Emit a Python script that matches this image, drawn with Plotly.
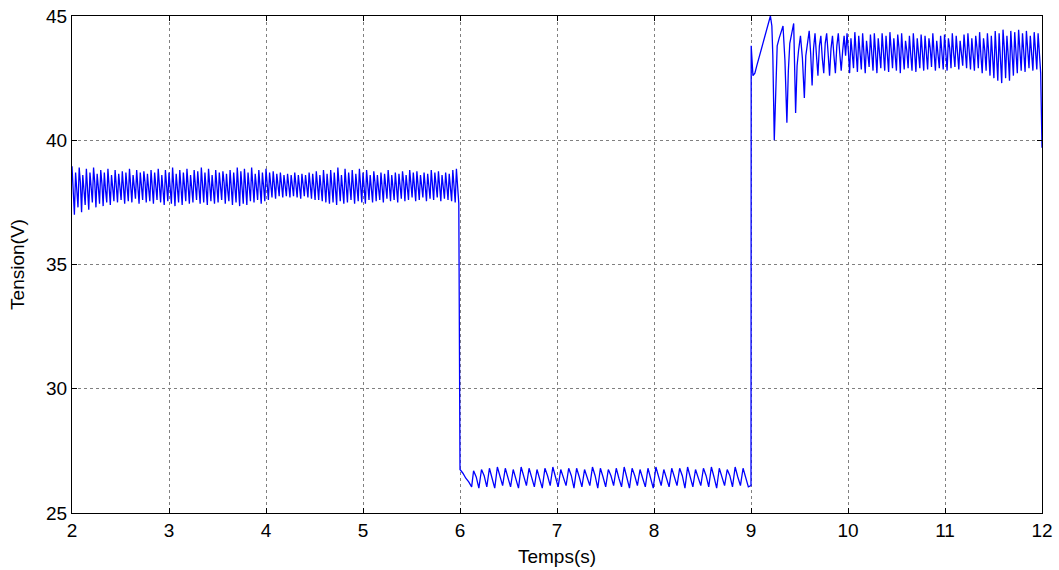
import numpy as np
import plotly.graph_objects as go

# ---------------- data ----------------
# Segment 1 (2 s -> 6 s): per-cycle high / mid / low levels (V)
highs1 = [38.95, 38.7, 38.9, 38.6, 38.85, 38.7, 38.9, 38.65, 38.8, 38.7, 38.85, 38.6,
          38.8, 38.65, 38.75, 38.7, 38.85, 38.6, 38.8, 38.7, 38.75, 38.65, 38.8, 38.7,
          38.85, 38.6, 38.8, 38.7, 38.9, 38.65, 38.8, 38.7, 38.85, 38.6, 38.8, 38.75,
          38.9, 38.7, 38.85, 38.6, 38.8, 38.7, 38.75, 38.65, 38.8, 38.7, 38.9, 38.75,
          38.85, 38.7, 38.9, 38.65, 38.8, 38.7, 38.85, 38.7, 38.75, 38.65, 38.7, 38.6,
          38.65, 38.6, 38.7, 38.6, 38.65, 38.6, 38.7, 38.65, 38.75, 38.6, 38.8, 38.65,
          38.8, 38.7, 38.9, 38.6, 38.85, 38.7, 38.8, 38.65, 38.85, 38.7, 38.8, 38.6,
          38.75, 38.6, 38.7, 38.65, 38.8, 38.6, 38.7, 38.65, 38.75, 38.6, 38.8, 38.7,
          38.75, 38.6, 38.7, 38.65, 38.8, 38.7, 38.75, 38.6, 38.7, 38.65, 38.8, 38.85]
mids1 = [38.2, 38.1, 38.3, 38.0, 38.2, 38.15, 38.3, 38.1, 38.25, 38.0, 38.2, 38.1,
         38.3, 38.05, 38.2, 38.15, 38.25, 38.0, 38.2, 38.1, 38.3, 38.05, 38.2, 38.15,
         38.25, 38.1, 38.3, 38.0, 38.2, 38.15, 38.25, 38.05, 38.2, 38.1, 38.3, 38.0,
         38.2, 38.15, 38.25, 38.05, 38.2, 38.1, 38.3, 38.0, 38.2, 38.15, 38.25, 38.1,
         38.2, 38.1, 38.3, 38.15, 38.2, 38.1, 38.25, 38.15, 38.2, 38.15, 38.25, 38.2,
         38.15, 38.2, 38.25, 38.15, 38.2, 38.1, 38.25, 38.15, 38.2, 38.05, 38.3, 38.1,
         38.2, 38.0, 38.25, 38.1, 38.3, 38.05, 38.2, 38.15, 38.25, 38.0, 38.2, 38.1,
         38.3, 38.05, 38.2, 38.15, 38.25, 38.1, 38.2, 38.05, 38.3, 38.1, 38.2, 38.15,
         38.25, 38.05, 38.2, 38.1, 38.3, 38.15, 38.2, 38.05, 38.25, 38.1, 38.2, 38.15]
lows1 = [37.0, 37.3, 37.1, 37.4, 37.2, 37.5, 37.3, 37.45, 37.35, 37.5, 37.4, 37.55,
         37.5, 37.6, 37.45, 37.55, 37.5, 37.65, 37.45, 37.6, 37.5, 37.55, 37.45, 37.6,
         37.5, 37.4, 37.55, 37.45, 37.35, 37.5, 37.4, 37.55, 37.45, 37.5, 37.6, 37.45,
         37.5, 37.4, 37.55, 37.45, 37.5, 37.6, 37.45, 37.55, 37.4, 37.5, 37.35, 37.45,
         37.4, 37.55, 37.5, 37.6, 37.45, 37.55, 37.6, 37.7, 37.65, 37.75, 37.7, 37.75,
         37.7, 37.75, 37.7, 37.65, 37.75, 37.7, 37.65, 37.6, 37.6, 37.55, 37.5, 37.45,
         37.5, 37.4, 37.55, 37.45, 37.5, 37.6, 37.45, 37.55, 37.5, 37.45, 37.6, 37.5,
         37.55, 37.6, 37.5, 37.65, 37.55, 37.6, 37.5, 37.65, 37.55, 37.6, 37.7, 37.55,
         37.6, 37.7, 37.55, 37.65, 37.6, 37.7, 37.55, 37.65, 37.6, 37.55, 37.5, 37.45]

# Segment 2 (6 s -> 9 s): drop, then sawtooth ripple
t2_start = [6.0, 6.03, 6.06, 6.09, 6.12]
v2_start = [26.75, 26.6, 26.4, 26.25, 26.05]
highs2 = [26.7, 26.75, 26.8, 26.85, 26.8, 26.75, 26.85, 26.8, 26.75, 26.8,
          26.85, 26.75, 26.8, 26.8, 26.75, 26.85, 26.8, 26.75, 26.8, 26.85,
          26.8, 26.75, 26.8, 26.85, 26.75, 26.8, 26.8, 26.85, 26.75, 26.8,
          26.85, 26.8, 26.75, 26.85, 26.8]
mids2 = [26.45, 26.5, 26.4, 26.5, 26.45, 26.4, 26.5, 26.45, 26.4, 26.5,
         26.45, 26.4, 26.5, 26.45, 26.4, 26.5, 26.45, 26.5, 26.4, 26.45,
         26.5, 26.4, 26.45, 26.5, 26.4, 26.45, 26.5, 26.45, 26.4, 26.5,
         26.45, 26.4, 26.5, 26.45, 26.4]
lows2 = [26.0, 26.05, 26.0, 26.1, 26.05, 26.0, 26.1, 26.05, 26.0, 26.1,
         26.05, 26.1, 26.0, 26.05, 26.1, 26.0, 26.05, 26.1, 26.05, 26.0,
         26.1, 26.05, 26.0, 26.1, 26.05, 26.1, 26.0, 26.05, 26.1, 26.05,
         26.0, 26.1, 26.05, 26.1, 26.05]

# Segment 3 transient (9 s -> 10 s)
t3_trans = [9.0, 9.002, 9.02, 9.04, 9.06, 9.08, 9.10, 9.12, 9.14, 9.16,
            9.18, 9.20, 9.215, 9.225, 9.24, 9.255, 9.27, 9.29, 9.31, 9.33,
            9.35, 9.37, 9.385, 9.40, 9.42, 9.44, 9.46, 9.475, 9.49, 9.51,
            9.53, 9.55, 9.565, 9.58, 9.60, 9.615, 9.63, 9.645, 9.66, 9.675,
            9.69, 9.705, 9.72, 9.735, 9.75, 9.765, 9.78, 9.795, 9.81, 9.825,
            9.84, 9.855, 9.87, 9.885, 9.90, 9.915, 9.93, 9.945, 9.96, 9.975]
v3_trans = [26.1, 43.8, 42.6, 42.7, 43.0, 43.3, 43.6, 43.9, 44.2, 44.5,
            44.8, 45.0, 44.6, 43.4, 40.0, 42.5, 43.8, 44.1, 44.4, 44.6,
            43.2, 40.7, 42.8, 43.9, 44.3, 44.7, 41.1, 43.0, 43.6, 44.2,
            43.3, 41.7, 43.4, 43.8, 44.4, 43.5, 42.2, 43.7, 44.3, 43.4,
            42.6, 43.8, 44.2, 43.3, 42.7, 43.9, 44.3, 43.5, 42.6, 43.7,
            44.2, 43.4, 42.7, 43.8, 44.3, 43.5, 42.8, 43.6, 44.2, 43.4]

# Segment 3 steady ripple (10 s -> 12 s)
highs3 = [44.3, 44.1, 44.35, 44.2, 44.3, 44.0, 44.25, 44.3, 44.1, 44.3,
          44.2, 44.35, 44.1, 44.25, 44.3, 44.0, 44.2, 44.3, 44.1, 44.25,
          44.2, 44.1, 44.3, 44.0, 44.2, 44.25, 44.1, 44.3, 44.2, 44.0,
          44.25, 44.3, 44.1, 44.2, 44.35, 44.1, 44.3, 44.2, 44.4, 44.3,
          44.45, 44.2, 44.4, 44.35, 44.45, 44.3, 44.4, 44.2, 44.35, 44.3]
mids3 = [43.6, 43.4, 43.7, 43.5, 43.6, 43.3, 43.65, 43.5, 43.4, 43.7,
         43.55, 43.6, 43.4, 43.7, 43.5, 43.6, 43.45, 43.65, 43.5, 43.6,
         43.4, 43.7, 43.5, 43.55, 43.6, 43.45, 43.7, 43.5, 43.6, 43.4,
         43.65, 43.55, 43.5, 43.7, 43.4, 43.6, 43.5, 43.3, 43.6, 43.5,
         43.7, 43.4, 43.6, 43.5, 43.65, 43.55, 43.6, 43.5, 43.7, 43.55]
lows3 = [42.7, 42.9, 42.75, 42.85, 42.7, 42.95, 42.8, 42.7, 42.9, 42.8,
         42.75, 42.9, 42.8, 42.7, 42.85, 42.9, 42.8, 42.75, 42.9, 42.8,
         42.85, 42.95, 42.8, 42.9, 42.85, 42.8, 42.9, 42.95, 42.85, 43.0,
         42.9, 42.85, 42.8, 42.9, 42.7, 42.8, 42.6, 42.5, 42.4, 42.3,
         42.5, 42.4, 42.6, 42.7, 42.8, 42.75, 42.9, 42.8, 42.85, 42.7]
t_end = [12.0]
v_end = [39.7]

x_ticks = [2, 3, 4, 5, 6, 7, 8, 9, 10, 11, 12]
y_ticks = [25, 30, 35, 40, 45]


def ripple(t0, t1, highs, mids, lows):
    n = min(len(highs), len(mids), len(lows))
    vals = np.column_stack([highs[:n], mids[:n], lows[:n]]).ravel()
    ts = np.linspace(t0, t1, len(vals), endpoint=False)
    return list(ts), list(vals)


t1, v1 = ripple(2.0, 6.0, highs1, mids1, lows1)
t2, v2 = ripple(6.14, 9.0, highs2, mids2, lows2)
t3, v3 = ripple(9.99, 12.0, highs3, mids3, lows3)

t_all = t1 + t2_start + t2 + t3_trans + t3 + t_end
v_all = v1 + v2_start + v2 + v3_trans + v3 + v_end

fig = go.Figure()
fig.add_trace(go.Scatter(x=t_all, y=v_all, mode="lines",
                         line=dict(color="#0000ff", width=1.3),
                         showlegend=False, hoverinfo="skip"))

font = dict(family="Liberation Sans, Arial, sans-serif", size=19, color="black")
axis_common = dict(showline=True, linecolor="black", linewidth=1, mirror="allticks",
                   ticks="inside", ticklen=5, tickcolor="black",
                   showgrid=True, gridcolor="#808080", gridwidth=1, griddash="dot",
                   zeroline=False, tickfont=font, automargin=False,
                   ticklabeloverflow="allow")

fig.update_layout(
    width=1059, height=570,
    margin=dict(l=72, r=17, t=16, b=57),
    paper_bgcolor="white", plot_bgcolor="white",
    font=font,
    xaxis=dict(range=[2, 12], tickvals=x_ticks,
               title=dict(text="Temps(s)", font=font, standoff=9), **axis_common),
    yaxis=dict(range=[25, 45], tickvals=y_ticks,
               title=dict(text="Tension(V)", font=font, standoff=16), **axis_common),
)

# remove the page's default 8 px body margin so the figure fills the window
fig.write_html("out.html",
               config={"displayModeBar": False},
               post_script="document.body.style.margin='0';"
                           "document.body.style.overflow='hidden';")
